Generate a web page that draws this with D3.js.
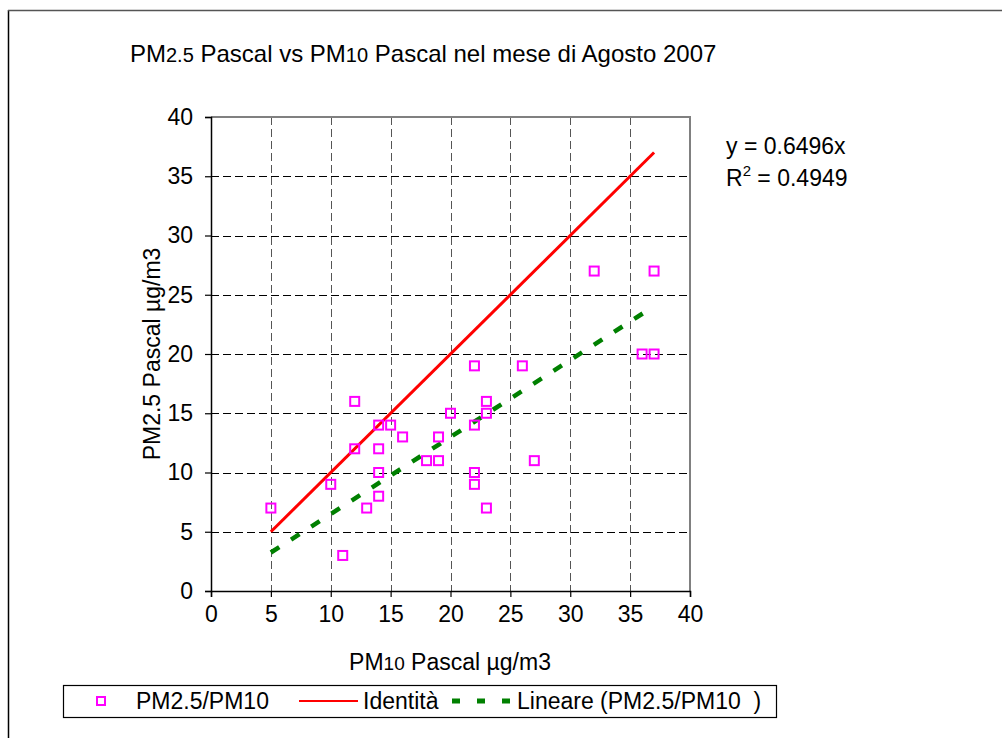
<!DOCTYPE html>
<html>
<head>
<meta charset="utf-8">
<script src="https://cdn.jsdelivr.net/npm/d3@7"></script>
<style>
    body { margin: 0; background: #fff; }
    text { font-family: "Liberation Sans", Arial, sans-serif; fill: #000; white-space: pre; }
</style>
</head>
<body>
<svg id="chart" width="1002" height="738"></svg>
<script>
// PM10 vs PM2.5 daily values, August 2007
let pm10 = [5, 10, 11, 12, 12, 13, 14, 14, 14, 14, 15, 16, 18, 19, 19, 20,
            22, 22, 22, 22, 23, 23, 23, 26, 27, 32, 36, 37, 37]
let pm25 = [7, 9, 3, 16, 12, 7, 14, 12, 10, 8, 14, 13, 11, 13, 11, 15,
            19, 14, 10, 9, 16, 15, 7, 19, 11, 27, 20, 20, 27]

let identita = [[5, 5], [37, 37]]
let trendSlope = 0.6496
let trendR2 = 0.4949
let trendRange = [5, 37]

let xTicks = [0, 5, 10, 15, 20, 25, 30, 35, 40]
let yTicks = [0, 5, 10, 15, 20, 25, 30, 35, 40]

let svg = d3.select('#chart')

// outer chart border (runs off the right/bottom edge)
svg.append('line').attr('x1', 8.5).attr('x2', 8.5).attr('y1', 10).attr('y2', 738)
    .attr('stroke', '#000').attr('stroke-width', 1.5)
svg.append('line').attr('x1', 8).attr('x2', 1002).attr('y1', 10.5).attr('y2', 10.5)
    .attr('stroke', '#555').attr('stroke-width', 1.5)

let xScale = d3.scaleLinear().domain([0, 40]).range([211, 690])
let yScale = d3.scaleLinear().domain([0, 40]).range([591, 117])

// gridlines
svg.append('g').selectAll('line')
    .data(xTicks.filter(d => d > 0 && d < 40))
    .join('line')
    .attr('x1', d => Math.round(xScale(d)) + 0.5).attr('x2', d => Math.round(xScale(d)) + 0.5)
    .attr('y1', yScale(40)).attr('y2', yScale(0))
    .attr('stroke', '#555').attr('stroke-dasharray', '8,4')

svg.append('g').selectAll('line')
    .data(yTicks.filter(d => d > 0 && d < 40))
    .join('line')
    .attr('x1', xScale(0)).attr('x2', xScale(40))
    .attr('y1', d => Math.round(yScale(d)) + 0.5).attr('y2', d => Math.round(yScale(d)) + 0.5)
    .attr('stroke', '#000').attr('stroke-dasharray', '8,4')

// plot area border top / right
svg.append('path')
    .attr('d', `M${xScale(0)},${yScale(40)}H${xScale(40)}V${yScale(0)}`)
    .attr('fill', 'none').attr('stroke', '#808080').attr('stroke-width', 2)

// axes
let xAxisGen = d3.axisBottom(xScale).tickValues(xTicks).tickSize(6).tickPadding(9)
let yAxisGen = d3.axisLeft(yScale).tickValues(yTicks).tickSize(6).tickPadding(12)

let xAxis = svg.append('g')
    .attr('transform', `translate(0, ${yScale(0)})`)
    .call(xAxisGen)
let yAxis = svg.append('g')
    .attr('transform', `translate(${xScale(0)}, 0)`)
    .call(yAxisGen)

for (let ax of [xAxis, yAxis]) {
    ax.select('.domain').attr('stroke', '#000').attr('stroke-width', 1.5)
    ax.selectAll('.tick line').attr('stroke', '#000').attr('stroke-width', 1.2)
    ax.selectAll('.tick text')
        .style('font-family', '"Liberation Sans", Arial, sans-serif')
        .style('font-size', '23px')
        .attr('fill', '#000')
}

// identity line
let line = d3.line().x(d => xScale(d[0])).y(d => yScale(d[1]))
svg.append('path')
    .datum(identita)
    .attr('d', line)
    .attr('fill', 'none').attr('stroke', '#ff0000').attr('stroke-width', 3)

// linear trend through origin
let trend = trendRange.map(x => [x, trendSlope * x])
svg.append('path')
    .datum(trend)
    .attr('d', line)
    .attr('fill', 'none').attr('stroke', '#008000').attr('stroke-width', 4.5)
    .attr('stroke-dasharray', '10,14')

// points
let points = pm10.map((x, i) => [x, pm25[i]])
svg.append('g').selectAll('rect')
    .data(points)
    .join('rect')
    .attr('x', d => xScale(d[0]) - 4.5)
    .attr('y', d => yScale(d[1]) - 4.5)
    .attr('width', 9).attr('height', 9)
    .attr('fill', 'none').attr('stroke', '#ff00ff').attr('stroke-width', 2)

// title
let title = svg.append('text').attr('x', 130).attr('y', 62).style('font-size', '24px')
title.append('tspan').text('PM')
title.append('tspan').style('font-size', '20px').text('2.5')
title.append('tspan').text(' Pascal vs PM')
title.append('tspan').style('font-size', '20px').text('10')
title.append('tspan').text(' Pascal nel mese di Agosto 2007')

// axis titles
let xTitle = svg.append('text')
    .attr('x', 450).attr('y', 670).attr('text-anchor', 'middle').style('font-size', '23px')
xTitle.append('tspan').text('PM')
xTitle.append('tspan').style('font-size', '19px').text('10')
xTitle.append('tspan').text(' Pascal µg/m3')

svg.append('text')
    .attr('transform', `translate(160, 354) rotate(-90)`)
    .attr('text-anchor', 'middle').style('font-size', '23px')
    .text('PM2.5 Pascal µg/m3')

// trend equation
svg.append('text').attr('x', 726).attr('y', 154).style('font-size', '23px')
    .text(`y = ${trendSlope}x`)
let r2 = svg.append('text').attr('x', 726).attr('y', 186).style('font-size', '23px')
r2.append('tspan').text('R')
r2.append('tspan').attr('dy', -10).style('font-size', '15px').text('2')
r2.append('tspan').attr('dy', 10).text(` = ${trendR2}`)

// legend
let legend = svg.append('g')
legend.append('rect')
    .attr('x', 63.5).attr('y', 685.5).attr('width', 713).attr('height', 32)
    .attr('fill', '#fff').attr('stroke', '#000').attr('stroke-width', 1.2)
legend.append('rect')
    .attr('x', 97).attr('y', 697).attr('width', 8).attr('height', 8)
    .attr('fill', 'none').attr('stroke', '#ff00ff').attr('stroke-width', 2)
legend.append('text').attr('x', 136).attr('y', 709).style('font-size', '23px').text('PM2.5/PM10')
legend.append('line').attr('x1', 299).attr('x2', 358).attr('y1', 701).attr('y2', 701)
    .attr('stroke', '#ff0000').attr('stroke-width', 2)
legend.append('text').attr('x', 363).attr('y', 709).style('font-size', '23px').text('Identità')
legend.append('line').attr('x1', 452).attr('x2', 512).attr('y1', 701).attr('y2', 701)
    .attr('stroke', '#008000').attr('stroke-width', 5).attr('stroke-dasharray', '8,17')
legend.append('text').attr('x', 517).attr('y', 709).style('font-size', '23px').text('Lineare (PM2.5/PM10  )')
</script>
</body>
</html>
